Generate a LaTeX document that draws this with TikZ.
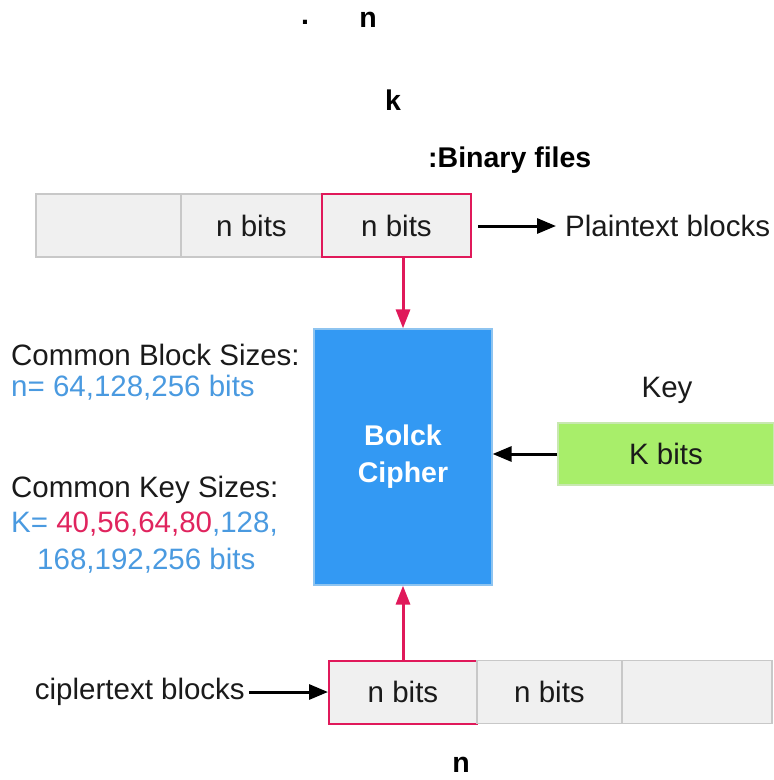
\documentclass[tikz,border=0pt]{standalone}
\usepackage{fontspec}
\setmainfont{Liberation Sans}
\usetikzlibrary{arrows.meta}
\definecolor{pinkc}{HTML}{E0195A}
\definecolor{bluebox}{HTML}{3399F3}
\definecolor{blueborder}{HTML}{8EC4F0}
\definecolor{lblue}{HTML}{4A9AE0}
\definecolor{rednum}{HTML}{E0245E}
\definecolor{cellfill}{HTML}{F0F0F0}
\definecolor{cellline}{HTML}{C8C8C8}
\definecolor{greenc}{HTML}{A8EE6A}
\definecolor{greenline}{HTML}{C8E8B0}
\definecolor{txt}{HTML}{1A1A1A}
\tikzset{
  cell/.style={draw=cellline, line width=1.2pt, fill=cellfill, inner sep=0pt, minimum height=63pt, text=txt, font=\fontsize{29.5}{32}\selectfont},
  pinkcell/.style={cell, draw=pinkc, line width=2pt},
  lbl/.style={inner sep=0pt, text=txt, font=\fontsize{29.5}{32}\selectfont},
  boldlbl/.style={inner sep=0pt, text=black, font=\fontsize{28.5}{32}\selectfont\bfseries},
  blackarrow/.style={draw=black, line width=3pt, -{Triangle[length=19pt,width=15pt]}},
  pinkarrow/.style={draw=pinkc, line width=3pt, -{Triangle[length=19pt,width=14pt]}},
}
\begin{document}
\begin{tikzpicture}[x=1pt,y=-1pt]
\useasboundingbox (0,0) rectangle (774,780);
% header bold labels
\node[boldlbl] (dot) at (305,22) {.};
\node[boldlbl] (hn) at (368,20) {n};
\node[boldlbl] (hk) at (393,100) {k};
\node[boldlbl, anchor=west] (bin) at (428,160) {:Binary files};
% top row
\node[cell, minimum width=145pt] (t1) at (108.5,225.5) {};
\node[cell, minimum width=141pt] (t2) at (251.5,225.5) {n bits};
\node[pinkcell, minimum width=149pt] (t3) at (396.5,225.5) {n bits};
\coordinate (pa) at (478,226);
\coordinate (pb) at (556,226);
\node[lbl, anchor=west] (plain) at (565,226) {Plaintext blocks};
\draw[blackarrow] (pa) -- (pb);
% cipher
\node[draw=blueborder, line width=1.2pt, fill=bluebox, minimum width=178pt, minimum height=256pt, inner sep=0pt,
  text=white, align=center, font=\fontsize{28.5}{37}\selectfont\bfseries] (ciph) at (403,457) {Bolck\\Cipher};
\draw[pinkarrow] (t3.south -| ciph.north) -- (ciph.north);
% left texts
\node[lbl, anchor=west] (cbs) at (11,355) {Common Block Sizes:};
\node[lbl, anchor=west, text=lblue] (nsz) at (11,388) {n= 64,128,256 bits};
\node[lbl, anchor=west] (cks) at (11,490) {Common Key Sizes:};
\node[lbl, anchor=west, text=lblue] (ksz) at (11,524) {K= \textcolor{rednum}{40,56,64,80},128,};
\node[lbl, anchor=west, text=lblue] (ksz2) at (37,561) {168,192,256 bits};
% key
\node[lbl] (keyl) at (667,390) {Key};
\node[draw=greenline, line width=1.2pt, fill=greenc, minimum width=216pt, minimum height=62pt, inner sep=0pt,
  text=txt, font=\fontsize{29.5}{32}\selectfont] (kbox) at (666,454) {K bits};
\draw[blackarrow] (kbox.west) -- (ciph.east |- kbox.west);
% bottom row
\node[pinkcell, minimum width=148pt] (b1) at (403,692) {n bits};
\node[cell, minimum width=145pt] (b2) at (549.5,692) {n bits};
\node[cell, minimum width=150pt] (b3) at (697,692) {};
\draw[pinkarrow] (b1.north) -- (ciph.south);
\node[lbl, anchor=east] (ctb) at (245,692) {ciplertext blocks};
\draw[blackarrow] (ctb.east) ++(4,0) -- (b1.west);
\node[boldlbl] (bn) at (461,765) {n};
\end{tikzpicture}
\end{document}
